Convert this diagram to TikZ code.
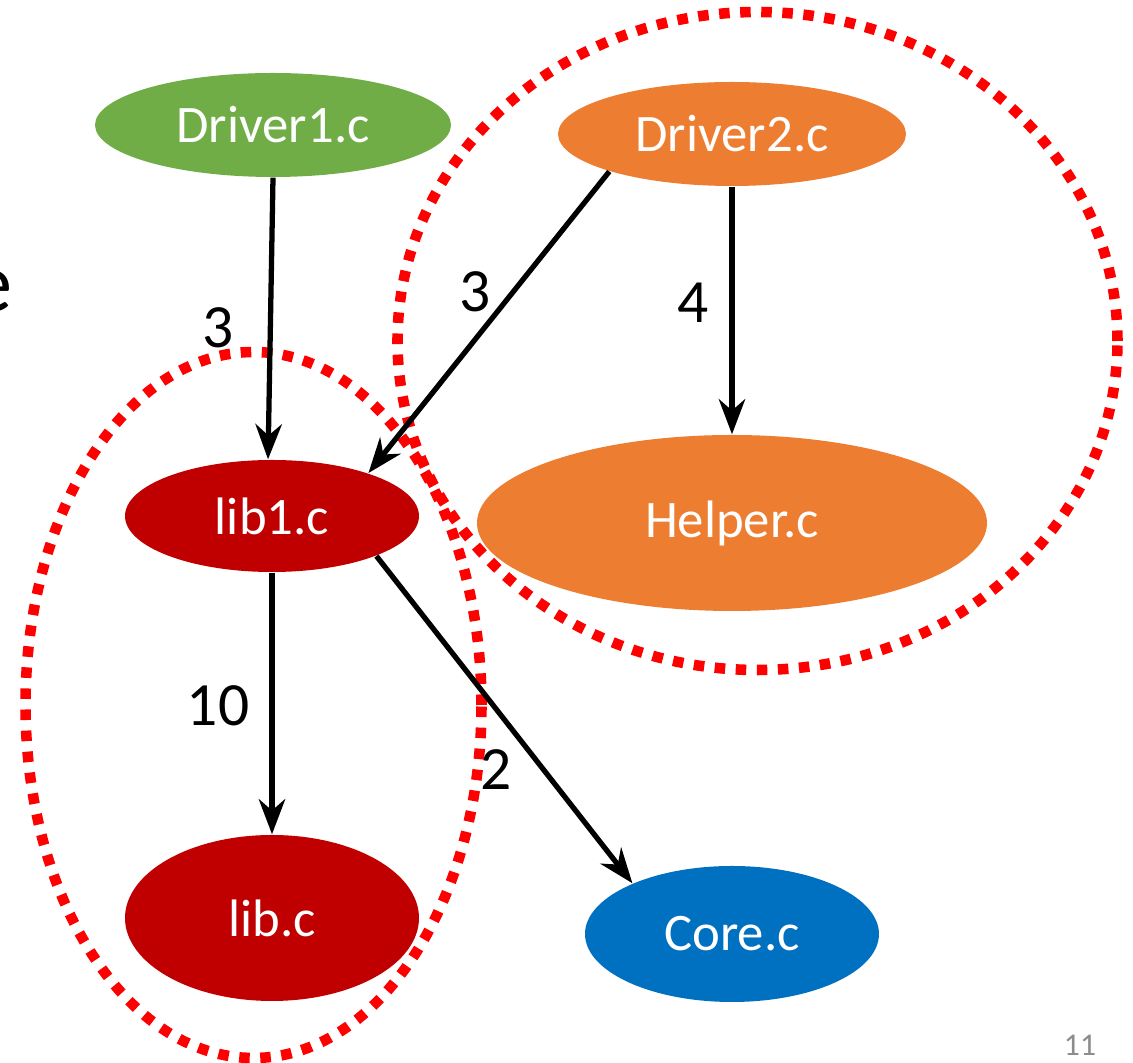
\documentclass[tikz,border=0pt]{standalone}
\usepackage{fontspec}
\setmainfont{Carlito}
\usetikzlibrary{shapes.geometric,arrows.meta}
\definecolor{dgreen}{HTML}{70AD47}
\definecolor{dorange}{HTML}{ED7D31}
\definecolor{dred}{HTML}{C00000}
\definecolor{dblue}{HTML}{0070C0}
\definecolor{pagegray}{HTML}{8C8C8C}
\tikzset{
  file/.style={ellipse, inner sep=0pt, text=white, font=\fontsize{15}{17}\selectfont},
  dep/.style={line width=1.5pt, -{Stealth[length=10pt,width=7.5pt]}},
  weight/.style={font=\fontsize{17.5}{20}\selectfont, inner sep=0pt},
  cluster/.style={draw=red, line width=3pt, dash pattern=on 3pt off 3pt}
}
\begin{document}
\begin{tikzpicture}
\useasboundingbox (0,0) rectangle (11.33,-10.63);

% grouping outlines
\draw[cluster] (7.575,-3.41) ellipse [x radius=3.60, y radius=3.29];
\draw[cluster] (2.535,-7.05) ellipse [x radius=2.28, y radius=3.53];

% source files
\node[file, fill=dgreen, minimum width=3.56cm, minimum height=1.04cm] (d1) at (2.73,-1.25) {Driver1.c};
\node[file, fill=dorange, minimum width=3.48cm, minimum height=1.04cm] (d2) at (7.32,-1.34) {Driver2.c};
\node[file, fill=dred, minimum width=2.94cm, minimum height=1.12cm] (l1) at (2.72,-5.16) {lib1.c};
\node[file, fill=dorange, minimum width=5.10cm, minimum height=1.76cm] (hp) at (7.32,-5.23) {Helper.c};
\node[file, fill=dred, minimum width=2.94cm, minimum height=1.66cm] (lb) at (2.72,-9.18) {lib.c};
\node[file, fill=dblue, minimum width=2.94cm, minimum height=1.36cm] (co) at (7.32,-9.34) {Core.c};

% dependencies
\draw[dep] (d1.270) -- (l1.94);
\draw[dep] (d2.197) -- (l1.24);
\draw[dep] (d2.south) -- (hp.north);
\draw[dep] (l1.south) -- (lb.north);
\draw[dep] (l1.-21) -- (co.153);

% weights
\node[weight] (w1) at (2.18,-3.28) {3};
\node[weight] (w2) at (4.75,-2.92) {3};
\node[weight] (w3) at (6.93,-3.03) {4};
\node[weight] (w4) at (2.18,-7.06) {10};
\node[weight] (w5) at (4.96,-7.70) {2};

% slide text running in from the left margin, and the page number
\node[anchor=base east, font=\fontsize{24}{28}\selectfont, inner sep=0pt] (edge) at (0.13,-3.12) {e};
\node[font=\fontsize{9}{11}\selectfont, text=pagegray] (pg) at (10.80,-10.45) {11};
\end{tikzpicture}
\end{document}
